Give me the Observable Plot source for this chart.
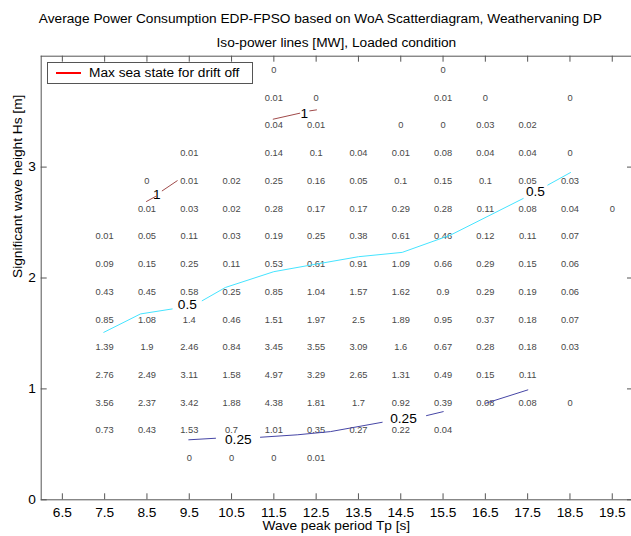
<!DOCTYPE html>
<html><head><meta charset="utf-8">
<script src="https://cdn.jsdelivr.net/npm/d3@7"></script>
<script src="https://cdn.jsdelivr.net/npm/@observablehq/plot@0.6"></script>
<style>
body{margin:0;background:#fff;}
#c{position:relative;width:631px;height:536px;font-family:"Liberation Sans",Arial,sans-serif;}
#legend{position:absolute;left:47px;top:62px;width:204px;height:20px;border:1px solid #555;background:#fff;}
#legend .ln{position:absolute;left:8px;top:9px;width:25px;height:2px;background:#ff0000;}
#legend .tx{position:absolute;left:41px;top:1px;font-size:13.7px;line-height:18px;color:#000;white-space:nowrap;}
</style>
</head><body><div id="c"></div>
<script>
const title1 = "Average Power Consumption EDP-FPSO based on WoA Scatterdiagram, Weathervaning DP";
const title2 = "Iso-power lines [MW], Loaded condition";
const xLabel = "Wave peak period Tp [s]";
const yLabel = "Significant wave height Hs [m]";
const legendLabel = "Max sea state for drift off";

const tp = [7.5, 8.5, 9.5, 10.5, 11.5, 12.5, 13.5, 14.5, 15.5, 16.5, 17.5, 18.5, 19.5];
const xTicks = [6.5, 7.5, 8.5, 9.5, 10.5, 11.5, 12.5, 13.5, 14.5, 15.5, 16.5, 17.5, 18.5, 19.5];
const yTicks = [0, 1, 2, 3];
const hs = [3.875, 3.625, 3.375, 3.125, 2.875, 2.625, 2.375, 2.125, 1.875, 1.625, 1.375, 1.125, 0.875, 0.625, 0.375];

const _ = null;
const row3875 = [_, _, _, _, 0, _, _, _, 0, _, _, _, _];
const row3625 = [_, _, _, _, 0.01, 0, _, _, 0.01, 0, _, 0, _];
const row3375 = [_, _, _, _, 0.04, 0.01, _, 0, 0, 0.03, 0.02, _, _];
const row3125 = [_, _, 0.01, _, 0.14, 0.1, 0.04, 0.01, 0.08, 0.04, 0.04, 0, _];
const row2875 = [_, 0, 0.01, 0.02, 0.25, 0.16, 0.05, 0.1, 0.15, 0.1, 0.05, 0.03, _];
const row2625 = [_, 0.01, 0.03, 0.02, 0.28, 0.17, 0.17, 0.29, 0.28, 0.11, 0.08, 0.04, 0];
const row2375 = [0.01, 0.05, 0.11, 0.03, 0.19, 0.25, 0.38, 0.61, 0.46, 0.12, 0.11, 0.07, _];
const row2125 = [0.09, 0.15, 0.25, 0.11, 0.53, 0.61, 0.91, 1.09, 0.66, 0.29, 0.15, 0.06, _];
const row1875 = [0.43, 0.45, 0.58, 0.25, 0.85, 1.04, 1.57, 1.62, 0.9, 0.29, 0.19, 0.06, _];
const row1625 = [0.85, 1.08, 1.4, 0.46, 1.51, 1.97, 2.5, 1.89, 0.95, 0.37, 0.18, 0.07, _];
const row1375 = [1.39, 1.9, 2.46, 0.84, 3.45, 3.55, 3.09, 1.6, 0.67, 0.28, 0.18, 0.03, _];
const row1125 = [2.76, 2.49, 3.11, 1.58, 4.97, 3.29, 2.65, 1.31, 0.49, 0.15, 0.11, _, _];
const row0875 = [3.56, 2.37, 3.42, 1.88, 4.38, 1.81, 1.7, 0.92, 0.39, 0.08, 0.08, 0, _];
const row0625 = [0.73, 0.43, 1.53, 0.7, 1.01, 0.35, 0.27, 0.22, 0.04, _, _, _, _];
const row0375 = [_, _, 0, 0, 0, 0.01, _, _, _, _, _, _, _];
const rows = [row3875, row3625, row3375, row3125, row2875, row2625, row2375, row2125,
              row1875, row1625, row1375, row1125, row0875, row0625, row0375];

// Iso-power contour lines (segments broken where the labels sit)
const iso025 = [
  {seg: 1, tp: 9.489, hs: 0.541}, {seg: 1, tp: 10.121, hs: 0.555},
  {seg: 2, tp: 11.184, hs: 0.564}, {seg: 2, tp: 12.052, hs: 0.586}, {seg: 2, tp: 12.839, hs: 0.615}, {seg: 2, tp: 14.061, hs: 0.699},
  {seg: 3, tp: 15.109, hs: 0.759}, {seg: 3, tp: 15.504, hs: 0.795},
  {seg: 4, tp: 16.504, hs: 0.870}, {seg: 4, tp: 17.504, hs: 0.991}
];
const iso05 = [
  {seg: 1, tp: 7.480, hs: 1.510}, {seg: 1, tp: 8.348, hs: 1.676}, {seg: 1, tp: 9.097, hs: 1.721},
  {seg: 2, tp: 9.806, hs: 1.795}, {seg: 2, tp: 10.357, hs: 1.915}, {seg: 2, tp: 11.499, hs: 2.057},
  {seg: 2, tp: 12.289, hs: 2.111}, {seg: 2, tp: 13.501, hs: 2.192}, {seg: 2, tp: 14.534, hs: 2.231},
  {seg: 2, tp: 15.676, hs: 2.387}, {seg: 2, tp: 17.395, hs: 2.717},
  {seg: 3, tp: 17.976, hs: 2.838}, {seg: 3, tp: 18.513, hs: 2.951}
];
const iso1 = [
  {seg: 1, tp: 8.489, hs: 2.690}, {seg: 1, tp: 8.702, hs: 2.735},
  {seg: 2, tp: 8.861, hs: 2.786}, {seg: 2, tp: 9.215, hs: 2.877},
  {seg: 3, tp: 11.485, hs: 3.432}, {seg: 3, tp: 12.113, hs: 3.486},
  {seg: 4, tp: 12.350, hs: 3.507}, {seg: 4, tp: 12.508, hs: 3.516}
];
const isoLabels = [
  {tp: 10.660, hs: 0.545, text: "0.25"}, {tp: 14.565, hs: 0.730, text: "0.25"},
  {tp: 9.454, hs: 1.757, text: "0.5"}, {tp: 17.683, hs: 2.775, text: "0.5"},
  {tp: 8.733, hs: 2.755, text: "1"}, {tp: 12.218, hs: 3.480, text: "1"}
];

const cells = rows.flatMap((r, i) => r.map((v, j) => v == null ? null : {tp: tp[j], hs: hs[i], label: String(v)})).filter(Boolean);

const W = 631, H = 536, mL = 40.7, mR = 0, mT = 55.7, mB = 36.7;
const pw = W - mL - mR, ph = H - mT - mB;
const axisColor = "#555";
const font = "Liberation Sans, Arial, sans-serif";

const chart = Plot.plot({
  width: W, height: H,
  marginLeft: mL, marginRight: mR, marginTop: mT, marginBottom: mB,
  style: {fontFamily: font, fontSize: "13.7px", background: "#fff", color: "#000"},
  x: {domain: [6, 19.955], ticks: xTicks, label: null},
  y: {domain: [0, 4], ticks: yTicks, label: null},
  marks: [
    Plot.axisX({ticks: xTicks, tickSize: 0, tickPadding: 7.2, fontSize: 13.7, label: null, tickFormat: d => String(d)}),
    Plot.axisY({ticks: yTicks, tickSize: 0, tickPadding: 5.4, fontSize: 13.7, label: null, tickFormat: d => String(d)}),
    // inward ticks (bottom, top, left, right)
    Plot.tickX(xTicks, {x: d => d, insetTop: ph - 6, stroke: axisColor}),
    Plot.tickX(xTicks, {x: d => d, insetBottom: ph - 6, stroke: axisColor}),
    Plot.tickY(yTicks, {y: d => d, insetRight: pw - 6, stroke: axisColor}),
    Plot.tickY(yTicks, {y: d => d, insetLeft: pw - 4, stroke: axisColor}),
    // box
    Plot.ruleY([0, 4], {stroke: axisColor}),
    Plot.ruleX([6], {stroke: axisColor}),
    // numbers
    Plot.text(cells, {x: "tp", y: "hs", text: "label", fontSize: 9.3, fill: "#484848"}),
    // contours
    Plot.line(iso025, {x: "tp", y: "hs", z: "seg", stroke: "#4646a6", strokeWidth: 1}),
    Plot.line(iso05, {x: "tp", y: "hs", z: "seg", stroke: "#45e4ff", strokeWidth: 1}),
    Plot.line(iso1, {x: "tp", y: "hs", z: "seg", stroke: "#a04a4a", strokeWidth: 1}),
    Plot.text(isoLabels, {x: "tp", y: "hs", text: "text", fontSize: 13.7, fill: "#000"}),
    // titles and axis labels
    Plot.text([title1], {frameAnchor: "top", lineAnchor: "middle", dx: -16, dy: -38, fontSize: 13.7, fill: "#000"}),
    Plot.text([title2], {frameAnchor: "top", lineAnchor: "middle", dy: -14, fontSize: 13.7, fill: "#000"}),
    Plot.text([xLabel], {frameAnchor: "bottom", lineAnchor: "middle", dy: 26, fontSize: 13.7, fill: "#000"}),
    Plot.text([yLabel], {frameAnchor: "left", lineAnchor: "middle", dx: -24, rotate: -90, fontSize: 13.7, fill: "#000"})
  ]
});

const c = document.getElementById("c");
c.appendChild(chart);
const lg = document.createElement("div");
lg.id = "legend";
lg.innerHTML = '<div class="ln"></div><div class="tx"></div>';
lg.querySelector(".tx").textContent = legendLabel;
c.appendChild(lg);
</script>
</body></html>
